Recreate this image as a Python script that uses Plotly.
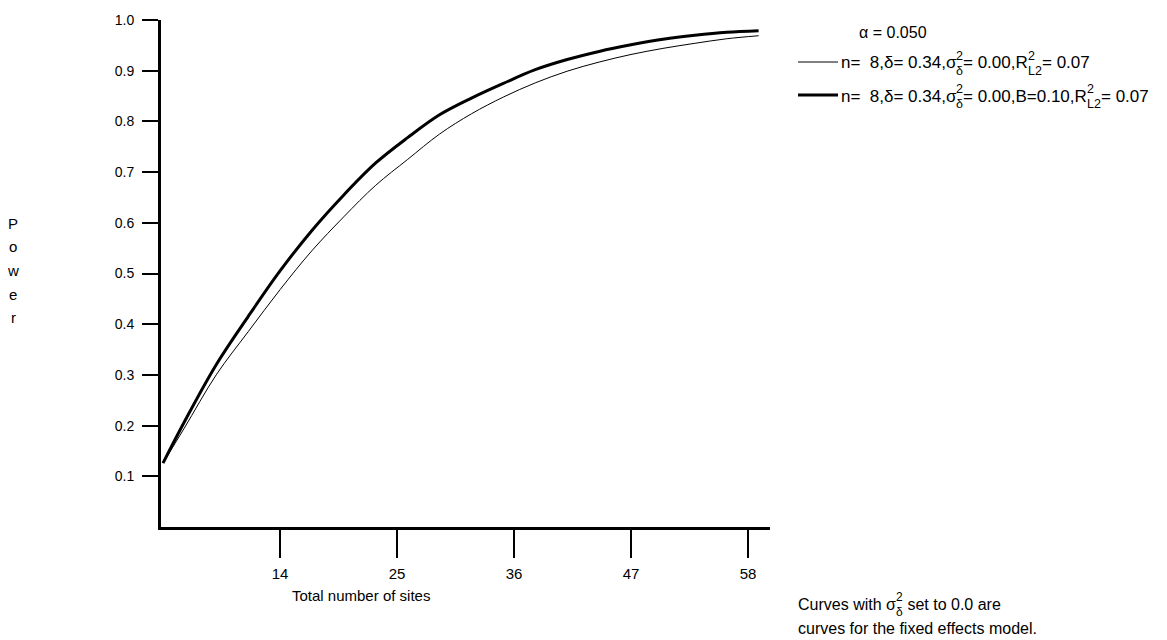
import plotly.graph_objects as go

# ---- data ----
sites = [3, 5, 8, 11, 14, 17, 20, 23, 26, 29, 32, 35, 38, 41, 44, 47, 50, 53, 56, 59]
power_fixed = [0.126, 0.195, 0.300, 0.385, 0.468, 0.545, 0.612, 0.674, 0.725, 0.775,
               0.815, 0.848, 0.876, 0.899, 0.917, 0.932, 0.944, 0.954, 0.963, 0.969]
power_blocked = [0.126, 0.207, 0.320, 0.415, 0.505, 0.585, 0.655, 0.718, 0.768, 0.813,
                 0.846, 0.875, 0.902, 0.922, 0.938, 0.951, 0.962, 0.970, 0.976, 0.979]
x_ticks = [14, 25, 36, 47, 58]
y_ticks = [0.1, 0.2, 0.3, 0.4, 0.5, 0.6, 0.7, 0.8, 0.9, 1.0]
y_tick_text = ["0.1", "0.2", "0.3", "0.4", "0.5", "0.6", "0.7", "0.8", "0.9", "1.0"]

FONT = "Liberation Sans, Arial, sans-serif"
OFF = 8  # page body margin: figure starts 8px from the window's top-left corner
W, H = 1167 - OFF, 640 - OFF
L, T = 161 - OFF, 20 - OFF
R, B = 1167 - 770, 640 - 527
PW, PH = W - L - R, H - T - B

fig = go.Figure()
fig.add_trace(go.Scatter(x=sites, y=power_fixed, mode="lines", line=dict(color="black", width=1, shape="spline"),
                         showlegend=False, hoverinfo="skip"))
fig.add_trace(go.Scatter(x=sites, y=power_blocked, mode="lines", line=dict(color="black", width=3, shape="spline"),
                         showlegend=False, hoverinfo="skip"))

# character advance widths (em, Arial metrics) for laying out rich text pieces
CW = {' ': 0.278, ',': 0.278, '.': 0.278, '=': 0.584, 'R': 0.722, 'B': 0.667, 'L': 0.556, 'C': 0.722,
      'δ': 0.557, 'σ': 0.617, 'α': 0.578,
      'a': 0.556, 'b': 0.556, 'c': 0.5, 'd': 0.556, 'e': 0.556, 'f': 0.278, 'h': 0.556, 'i': 0.222,
      'l': 0.222, 'm': 0.833, 'n': 0.556, 'o': 0.556, 'r': 0.333, 's': 0.5, 't': 0.278, 'u': 0.556,
      'v': 0.5, 'w': 0.722, 'x': 0.5}


def tw(s, size):
    return sum(CW.get(c, 0.556) for c in s) * size


def pxx(px):  # page pixel -> paper x
    return (px - OFF - L) / PW


def pxy(py):  # page pixel -> paper y
    return (T + PH - (py - OFF)) / PH


annotations = []
shapes = []


def add_text(px, py, text, size, anchor="left"):
    annotations.append(dict(x=pxx(px), y=pxy(py), xref="paper", yref="paper", text=text, showarrow=False,
                            xanchor=anchor, yanchor="middle", borderpad=0,
                            font=dict(family=FONT, size=size, color="black")))


def add_rich(px, py, parts, size=17, small=12.5):
    x = px
    for p in parts:
        if isinstance(p, str):
            add_text(x, py, p, size)
            x += tw(p, size)
        else:
            sup, sub = p
            add_text(x, py - 7, sup, small)
            add_text(x, py + 8, sub, small)
            x += max(tw(sup, small), tw(sub, small))


# legend block
add_text(858, 32, "α = 0.050", 16)
shapes.append(dict(type="line", xref="paper", yref="paper", x0=pxx(798), x1=pxx(838), y0=pxy(62), y1=pxy(62),
                   line=dict(color="black", width=1)))
add_rich(840, 63, ["n=  8,δ= 0.34,σ", ("2", "δ"), "= 0.00,R", ("2", "L2"), "= 0.07"])
shapes.append(dict(type="line", xref="paper", yref="paper", x0=pxx(798), x1=pxx(838), y0=pxy(95), y1=pxy(95),
                   line=dict(color="black", width=3)))
add_rich(840, 96, ["n=  8,δ= 0.34,σ", ("2", "δ"), "= 0.00,B=0.10,R", ("2", "L2"), "= 0.07"])

# note
add_rich(797, 604, ["Curves with σ", ("2", "δ"), " set to 0.0 are"], size=16, small=12)
add_text(797, 628, "curves for the fixed effects model.", 16)

# axis titles
add_text(361, 595, "Total number of sites", 15, anchor="center")
for i, ch in enumerate("Power"):
    add_text(13, 223 + 23.7 * i, ch, 15, anchor="center")

fig.update_layout(
    width=W, height=H,
    margin=dict(l=L, r=R, t=T, b=B, pad=0, autoexpand=False),
    paper_bgcolor="white", plot_bgcolor="white",
    font=dict(family=FONT, size=14, color="black"),
    annotations=annotations, shapes=shapes,
    xaxis=dict(range=[2.81, 60.07], tickvals=x_ticks, ticks="outside", ticklen=28, tickwidth=1.5,
               tickcolor="black", showline=True, linecolor="black", linewidth=3, showgrid=False,
               zeroline=False, tickfont=dict(size=15), ticklabelstandoff=3, fixedrange=True),
    yaxis=dict(range=[0, 1.0], tickvals=y_ticks, ticktext=y_tick_text, ticks="outside", ticklen=16,
               tickwidth=1.5, tickcolor="black", showline=True, linecolor="black", linewidth=3,
               showgrid=False, zeroline=False, tickfont=dict(size=14), ticklabelstandoff=5,
               fixedrange=True),
)

fig.write_html("out.html")
